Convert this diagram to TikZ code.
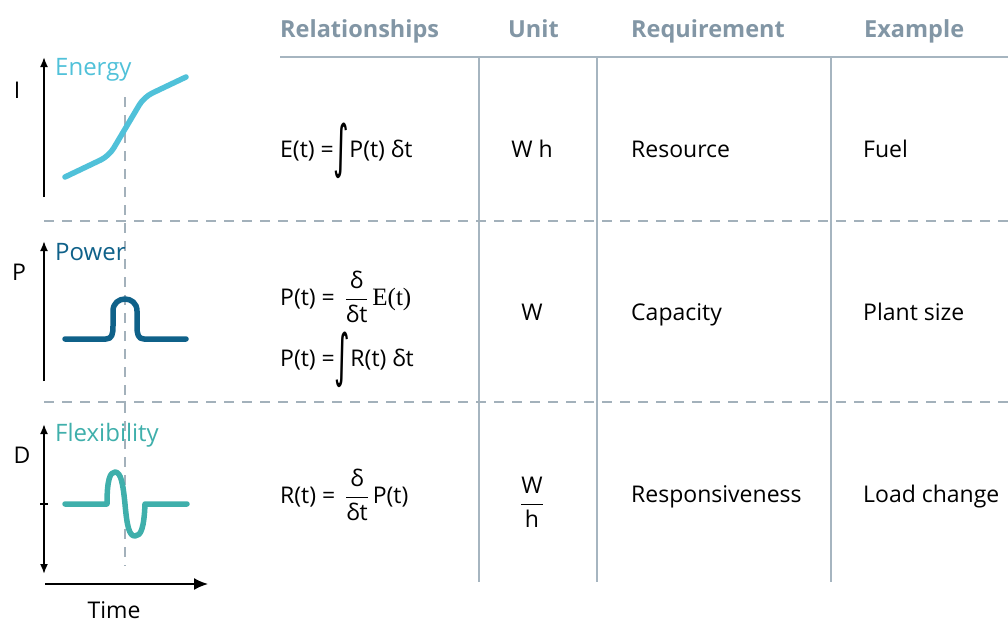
\documentclass[tikz,border=0pt]{standalone}
\usepackage{graphicx}
\usepackage{fontspec}
\setmainfont{Open Sans}
\newfontfamily\hdrfont{Open Sans}
\newfontfamily\serfont{Liberation Serif}
\newfontfamily\symfont{DejaVu Sans}
\usetikzlibrary{arrows.meta}
\definecolor{hdrc}{HTML}{8296A5}
\definecolor{linec}{HTML}{A6B5C0}
\definecolor{dashc}{HTML}{A3B1BB}
\definecolor{energyc}{HTML}{50C1D9}
\definecolor{powerc}{HTML}{0F6189}
\definecolor{flexc}{HTML}{3FAFAB}
\newcommand{\myint}{{\symfont\raisebox{-0.42em}{\scalebox{1.3}[2.5]{∫}}}}
\newcommand{\myfrac}[2]{$\displaystyle\frac{\mbox{#1}}{\mbox{#2}}$}
\tikzset{
  txt/.style={inner sep=0pt, font=\fontsize{23}{28}\selectfont},
  hdr/.style={inner sep=0pt, anchor=base west, text=hdrc, font=\hdrfont\bfseries\fontsize{23.5}{28}\selectfont},
  cell/.style={txt, anchor=base west},
  gridline/.style={draw=linec, line width=1.6pt},
  dashline/.style={draw=dashc, line width=1.4pt, dash pattern=on 10pt off 8pt},
  axis/.style={draw=black, line width=1.8pt},
  curve/.style={line width=5.5pt, line cap=round, line join=round},
}
\begin{document}
\begin{tikzpicture}[x=1pt,y=-1pt]
\useasboundingbox (0,0) rectangle (1008,624);
% headers
\node[hdr] (hrel) at (280,37) {Relationships};
\node[hdr] (hunit) at (508,37) {Unit};
\node[hdr] (hreq) at (631,37) {Requirement};
\node[hdr] (hex) at (864,37) {Example};
% grid
\coordinate (hl0) at (280,57);
\coordinate (hl1) at (1008,57);
\draw[gridline] (hl0) -- (hl1);
\coordinate (v1t) at (479,57); \coordinate (v1b) at (479,582);
\coordinate (v2t) at (597,57); \coordinate (v2b) at (597,582);
\coordinate (v3t) at (831,57); \coordinate (v3b) at (831,582);
\draw[gridline, line width=1.3pt] (v1t) -- (v1b);
\draw[gridline, line width=1.3pt] (v2t) -- (v2b);
\draw[gridline, line width=1.3pt] (v3t) -- (v3b);
% dashed separators
\coordinate (d1a) at (44,221); \coordinate (d1b) at (1008,221);
\coordinate (d2a) at (44,402); \coordinate (d2b) at (1008,402);
\draw[dashline] (d1a) -- (d1b);
\draw[dashline] (d2a) -- (d2b);
\coordinate (dva) at (125,97); \coordinate (dvb) at (125,566);
\draw[dashline] (dva) -- (dvb);
% axes
\coordinate (ea0) at (44,197); \coordinate (ea1) at (44,57);
\draw[axis, -{Latex[length=10pt,width=8pt]}] (ea0) -- (ea1);
\coordinate (pa0) at (44,381); \coordinate (pa1) at (44,241);
\draw[axis, -{Latex[length=10pt,width=8pt]}] (pa0) -- (pa1);
\coordinate (fa0) at (44,574); \coordinate (fa1) at (44,424);
\draw[axis, {Latex[length=10pt,width=8pt]}-{Latex[length=10pt,width=8pt]}] (fa0) -- (fa1);
\coordinate (tk0) at (40,504); \coordinate (tk1) at (48,504);
\draw[axis] (tk0) -- (tk1);
\coordinate (ta0) at (45,584); \coordinate (ta1) at (208,584);
\draw[axis, -{Latex[length=14pt,width=12pt]}] (ta0) -- (ta1);
% axis labels
\node[txt] (lI) at (17,90) {I};
\node[txt] (lP) at (19,272) {P};
\node[txt] (lD) at (22,455) {D};
\node[txt, anchor=base] (ltime) at (114,618) {Time};
\node[txt, anchor=west, text=energyc, font=\fontsize{24}{28}\selectfont] (lenergy) at (55,70) {Energy};
\node[txt, anchor=west, text=powerc, font=\fontsize{24}{28}\selectfont] (lpower) at (55,252) {Power};
\node[txt, anchor=west, text=flexc, font=\fontsize{24}{28}\selectfont] (lflex) at (55,435) {Flexibility};
% curves
\draw[curve, draw=energyc, rounded corners=9pt] (65,177) -- (109,156) -- (144,97) -- (186,77);
\draw[curve, draw=powerc] (65,339) -- (106,339) .. controls (112,339) and (113,334) .. (113,326)
  -- (113,311) .. controls (113,295) and (137,295) .. (137,311)
  -- (137,326) .. controls (137,334) and (138,339) .. (144,339) -- (186,339);
\draw[curve, draw=flexc] (65,504) -- (107,504) .. controls (107,480) and (110,472) .. (115,472)
  .. controls (121,472) and (123,484) .. (125,504)
  .. controls (127,526) and (129,536) .. (135,536)
  .. controls (141,536) and (144,528) .. (145,504) -- (187,504);
% row 1
\node[cell] (f1) at (280,157) {E(t) =\myint P(t) δt};
\node[txt, anchor=base] (u1) at (532,157) {W h};
\node[cell] (r1) at (631,157) {Resource};
\node[cell] (e1) at (863,157) {Fuel};
% row 2
\node[cell] (f2a) at (280,305) {P(t) =\, \myfrac{δ}{δt}\,{\serfont\fontsize{25}{28}\selectfont E(t)}};
\node[cell] (f2b) at (280,366) {P(t) =\myint R(t) δt};
\node[txt, anchor=base] (u2) at (532,320) {W};
\node[cell] (r2) at (631,320) {Capacity};
\node[cell] (e2) at (863,320) {Plant size};
% row 3
\node[cell] (f3) at (280,503) {R(t) =\, \myfrac{δ}{δt}\,P(t)};
\node[txt] (u3) at (532,502) {\myfrac{W}{h}};
\node[cell] (r3) at (631,502) {Responsiveness};
\node[cell] (e3) at (863,502) {Load change};
\end{tikzpicture}
\end{document}
